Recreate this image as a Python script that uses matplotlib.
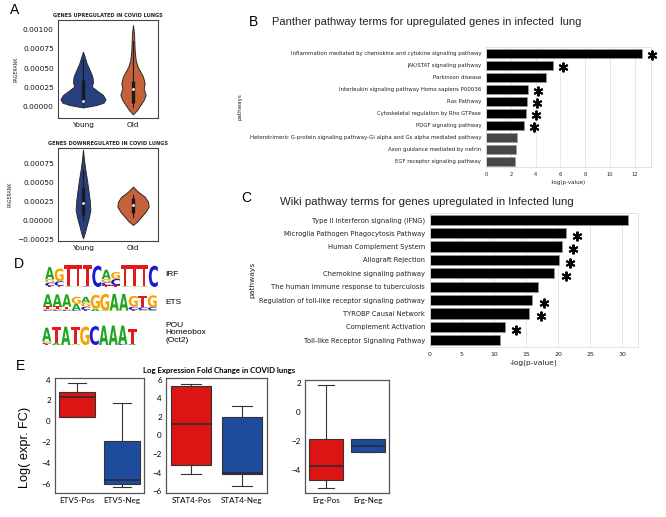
import numpy as np
import matplotlib
matplotlib.use('Agg')
import matplotlib.pyplot as plt
from matplotlib.textpath import TextPath
from matplotlib.patches import PathPatch
from matplotlib.font_manager import FontProperties
from matplotlib.transforms import Affine2D

# ---------------- DATA ----------------
violin_groups = ['Young', 'Old']
# violin outlines (value, half-width)
up_young_y = [0.000714, 0.00065, 0.000563, 0.000476, 0.00039, 0.000325, 0.00026, 0.000208, 0.000152, 0.000095, 0.000052, 0.000022, -0.00001]
up_young_w = [0.0, 0.033, 0.073, 0.133, 0.187, 0.2, 0.177, 0.28, 0.4, 0.45, 0.41, 0.27, 0.0]
up_old_y = [0.00106, 0.00095, 0.000736, 0.000606, 0.00052, 0.000455, 0.00039, 0.000303, 0.000238, 0.000152, 0.000087, 0.000022, -0.000043, -0.0001]
up_old_w = [0.0, 0.02, 0.033, 0.053, 0.093, 0.147, 0.2, 0.233, 0.213, 0.253, 0.213, 0.147, 0.08, 0.0]
up_young_box = [0.000065, 0.000346, 0.000074, 0.00001, 0.0006]   # q1, q3, median, low, high
up_old_box = [0.000043, 0.000333, 0.000225, 0.0, 0.00085]

dn_young_y = [0.00093, 0.000794, 0.000662, 0.00053, 0.0004, 0.000268, 0.000136, 0.000026, -0.000083, -0.00017, -0.000237]
dn_young_w = [0.0, 0.02, 0.047, 0.08, 0.107, 0.133, 0.147, 0.113, 0.067, 0.033, 0.0]
dn_old_y = [0.000443, 0.000377, 0.000311, 0.000246, 0.00018, 0.000114, 0.000048, -0.000018, -0.00006]
dn_old_w = [0.0, 0.1, 0.233, 0.3, 0.313, 0.253, 0.167, 0.08, 0.0]
dn_young_box = [0.00007, 0.000443, 0.000232, 0.00001, 0.00066]
dn_old_box = [0.000092, 0.00029, 0.0002, 0.000048, 0.00033]

panther_terms = ['Inflammation mediated by chemokine and cytokine signaling pathway',
                 'JAK/STAT signaling pathway', 'Parkinson disease',
                 'Interleukin signaling pathway Homo sapiens P00036', 'Ras Pathway',
                 'Cytoskeletal regulation by Rho GTPase', 'PDGF signaling pathway',
                 'Heterotrimeric G-protein signaling pathway-Gi alpha and Gs alpha mediated pathway',
                 'Axon guidance mediated by netrin', 'EGF receptor signaling pathway']
panther_vals = [12.6, 5.4, 4.85, 3.4, 3.3, 3.25, 3.07, 2.5, 2.4, 2.35]
panther_sig = [1, 1, 0, 1, 1, 1, 1, 0, 0, 0]

wiki_terms = ['Type II interferon signaling (IFNG)', 'Microglia Pathogen Phagocytosis Pathway',
              'Human Complement System', 'Allograft Rejection', 'Chemokine signaling pathway',
              'The human immune response to tuberculosis',
              'Regulation of toll-like receptor signaling pathway', 'TYROBP Causal Network',
              'Complement Activation', 'Toll-like Receptor Signaling Pathway']
wiki_vals = [31.0, 21.2, 20.6, 20.1, 19.4, 16.9, 16.0, 15.5, 11.7, 10.9]
wiki_sig = [0, 1, 1, 1, 1, 0, 1, 1, 1, 0]

motif_names = ['IRF', 'ETS', 'POU\nHomeobox\n(Oct2)']
irf_logo = [
    [('T', 0.08), ('C', 0.3), ('G', 0.3), ('A', 1.05)],
    [('T', 0.1), ('C', 0.4), ('G', 1.1)],
    [('A', 0.05), ('T', 1.85)],
    [('G', 0.05), ('T', 1.85)],
    [('C', 0.05), ('T', 1.85)],
    [('C', 1.85)],
    [('T', 0.15), ('C', 0.25), ('G', 0.3), ('A', 0.8)],
    [('T', 0.15), ('C', 0.55), ('G', 0.6)],
    [('A', 0.05), ('T', 1.85)],
    [('G', 0.05), ('T', 1.85)],
    [('A', 0.05), ('T', 1.85)],
    [('C', 1.85)],
]
ets_logo = [
    [('C', 0.1), ('G', 0.15), ('T', 0.25), ('A', 1.25)],
    [('C', 0.1), ('G', 0.15), ('T', 0.25), ('A', 1.25)],
    [('C', 0.1), ('G', 0.1), ('T', 0.25), ('A', 1.3)],
    [('C', 0.1), ('A', 0.65), ('G', 0.75)],
    [('T', 0.1), ('C', 0.35), ('G', 0.45), ('A', 0.6)],
    [('A', 0.25), ('G', 1.45)],
    [('A', 0.05), ('G', 1.75)],
    [('G', 0.05), ('A', 1.75)],
    [('G', 0.05), ('A', 1.75)],
    [('T', 0.1), ('C', 0.35), ('G', 1.15)],
    [('G', 0.1), ('C', 0.3), ('T', 1.2)],
    [('A', 0.1), ('C', 0.3), ('G', 1.25)],
]
pou_logo = [
    [('T', 0.1), ('C', 0.1), ('G', 0.15), ('A', 1.3)],
    [('A', 0.2), ('T', 1.55)],
    [('A', 1.75)],
    [('G', 0.1), ('T', 1.65)],
    [('G', 1.75)],
    [('C', 1.8)],
    [('A', 1.85)],
    [('A', 1.85)],
    [('C', 0.1), ('A', 1.75)],
    [('A', 0.1), ('T', 1.45)],
]

box_labels = [['ETV5-Pos', 'ETV5-Neg'], ['STAT4-Pos', 'STAT4-Neg'], ['Erg-Pos', 'Erg-Neg']]
box_q1 = [[0.42, -6.06], [-3.19, -4.13], [-4.65, -2.76]]
box_med = [[2.29, -5.68], [1.21, -4.02], [-3.73, -2.3]]
box_q3 = [[2.8, -1.94], [5.28, 2.0], [-1.81, -1.86]]
box_lo = [[0.42, -6.35], [-4.16, -5.42], [-5.2, -2.76]]
box_hi = [[3.68, 1.74], [5.57, 3.19], [1.88, -1.86]]
box_ticks = [[-6, -4, -2, 0, 2, 4], [-6, -4, -2, 0, 2, 4, 6], [-4, -2, 0, 2]]
box_ylims = [(-6.9, 4.16), (-6.18, 6.18), (-5.57, 2.23)]

# ---------------- FIGURE ----------------
W, H = 666, 517
fig = plt.figure(figsize=(W / 100, H / 100), dpi=100)
fig.patch.set_facecolor('white')


def add_ax(x0, y0, x1, y1):
    return fig.add_axes([x0 / W, 1 - y1 / H, (x1 - x0) / W, (y1 - y0) / H])


def ftext(x, y, s, **kw):
    return fig.text(x / W, 1 - y / H, s, **kw)


ARIAL = 'Liberation Sans'
BLUE_V = '#283f80'
ORANGE_V = '#c6623b'


def minus_fmt(v, p=None):
    s = f'{v:.5f}'
    if abs(v) < 1e-12:
        s = '0.00000'
    return s.replace('-', '\u2212')


def draw_violin(ax, pos, ys, ws, box, color):
    ys = np.asarray(ys)
    ws = np.asarray(ws)
    ax.fill_betweenx(ys, pos - ws, pos + ws, facecolor=color, edgecolor='#2a2a2a', lw=0.7, zorder=2)
    q1, q3, med, lo, hi = box
    ax.plot([pos, pos], [lo, hi], color='#1a1a1a', lw=0.8, zorder=3)
    ax.plot([pos, pos], [q1, q3], color='#1a1a1a', lw=2.4, solid_capstyle='butt', zorder=3)
    ax.scatter([pos], [med], s=4, color='white', zorder=4, linewidths=0)


def style_violin_ax(ax, ylim, ticks, title):
    ax.set_xlim(-0.5, 1.5)
    ax.set_ylim(*ylim)
    ax.set_yticks(ticks)
    ax.yaxis.set_major_formatter(matplotlib.ticker.FuncFormatter(minus_fmt))
    ax.set_xticks([0, 1])
    ax.set_xticklabels(violin_groups)
    ax.tick_params(length=0, labelsize=5.3, pad=3, colors='#111111')
    for sp in ax.spines.values():
        sp.set_color('#444444')
        sp.set_linewidth(0.8)
    ax.set_title(title, fontsize=3.6, fontweight='bold', pad=2.5, color='#222222')
    ax.set_ylabel('PAGERANK', fontsize=3.4, labelpad=3, color='#222222')


# ---- Panel A ----
ftext(10, 10, 'A', fontsize=10, family=ARIAL, va='center', ha='left')
axA1 = add_ax(58, 20, 158, 118)
draw_violin(axA1, 0, up_young_y, up_young_w, up_young_box, BLUE_V)
draw_violin(axA1, 1, up_old_y, up_old_w, up_old_box, ORANGE_V)
style_violin_ax(axA1, (-0.000147, 0.001126), [0, 0.00025, 0.0005, 0.00075, 0.001],
                'GENES UPREGULATED IN COVID LUNGS')

axA2 = add_ax(58, 148, 158, 241)
draw_violin(axA2, 0, dn_young_y, dn_young_w, dn_young_box, BLUE_V)
draw_violin(axA2, 1, dn_old_y, dn_old_w, dn_old_box, ORANGE_V)
style_violin_ax(axA2, (-0.000272, 0.000951), [-0.00025, 0, 0.00025, 0.0005, 0.00075],
                'GENES DOWNREGULATED IN COVID LUNGS')


# ---- Panels B & C ----
def bar_panel(ax, terms, vals, sig, colors, xticks, xlim, tick_fs, xt_fs, lab_fs, star_pad, star_ms):
    n = len(terms)
    idx = np.arange(n)
    ax.barh(idx, vals, height=0.75, color=colors, edgecolor='#9a9a9a', linewidth=0.5, zorder=2)
    for i in range(n):
        if sig[i]:
            ax.plot(vals[i] + star_pad, i + 0.2, marker=(6, 2, 0), ms=star_ms, mew=1.4,
                    color='black', zorder=3, clip_on=False)
    ax.set_ylim(n - 0.5, -0.5)
    ax.set_xlim(*xlim)
    ax.set_yticks(idx)
    ax.set_yticklabels(terms)
    ax.set_xticks(xticks)
    ax.grid(axis='x', color='#e8e8e8', lw=0.7, zorder=0)
    ax.set_axisbelow(True)
    ax.tick_params(axis='y', length=0, labelsize=tick_fs, pad=3.5, colors='#222222')
    ax.tick_params(axis='x', length=0, labelsize=xt_fs, pad=3.5, colors='#222222')
    for sp in ax.spines.values():
        sp.set_color('#dddddd')
        sp.set_linewidth(0.6)
    ax.set_xlabel('-log(p-value)', fontsize=lab_fs, labelpad=2, color='#222222')
    ax.set_ylabel('pathways', fontsize=lab_fs, color='#222222')


ftext(249, 22, 'B', fontsize=10, family=ARIAL, va='center', ha='left')
ftext(272, 22, 'Panther pathway terms for upregulated genes in infected  lung', fontsize=8.0,
      family=ARIAL, va='center', ha='left', color='#222222')
axB = add_ax(486, 47, 651, 167)
bar_panel(axB, panther_terms, panther_vals, panther_sig, ['black'] * 7 + ['#474747'] * 3,
          [0, 2, 4, 6, 8, 10, 12], (0, 13.3), 3.9, 3.7, 4.0, 0.8, 7)
axB.yaxis.labelpad = 5

ftext(241, 198, 'C', fontsize=10, family=ARIAL, va='center', ha='left')
ftext(280, 202, 'Wiki pathway terms for genes upregulated in Infected lung', fontsize=8.2,
      family=ARIAL, va='center', ha='left', color='#222222')
axC = add_ax(430, 213, 638, 347)
bar_panel(axC, wiki_terms, wiki_vals, wiki_sig, 'black', [0, 5, 10, 15, 20, 25, 30], (0, 32.5),
          4.9, 4.5, 5.4, 1.8, 7)
axC.yaxis.labelpad = 3

# ---- Panel D: motif logos ----
LOGO_COLORS = {'A': '#1fa51f', 'C': '#1a1ad0', 'G': '#f5a300', 'T': '#e31a1a'}
LOGO_FONT = FontProperties(family='DejaVu Sans', weight='bold')


def draw_logo(ax, logo):
    ax.set_xlim(0, len(logo))
    ax.set_ylim(0, 2)
    ax.axis('off')
    for i, col in enumerate(logo):
        y = 0.0
        for letter, h in col:
            tp = TextPath((0, 0), letter, size=1, prop=LOGO_FONT)
            bb = tp.get_extents()
            tr = Affine2D().translate(-bb.x0, -bb.y0).scale(0.96 / bb.width, h / bb.height) \
                .translate(i + 0.02, y)
            ax.add_patch(PathPatch(tr.transform_path(tp), facecolor=LOGO_COLORS[letter],
                                   edgecolor='none', lw=0))
            y += h


ftext(14, 264, 'D', fontsize=10, family=ARIAL, va='center', ha='left')
axD1 = add_ax(45, 264, 158, 287)
draw_logo(axD1, irf_logo)
axD2 = add_ax(43, 292, 157, 311)
draw_logo(axD2, ets_logo)
axD3 = add_ax(42, 324, 137, 345)
draw_logo(axD3, pou_logo)
ftext(165, 275, motif_names[0], fontsize=6, family=ARIAL, va='center', ha='left')
ftext(165, 303, motif_names[1], fontsize=6, family=ARIAL, va='center', ha='left')
ftext(165, 322, motif_names[2], fontsize=6, family=ARIAL, va='top', ha='left', linespacing=1.05)

# ---- Panel E: boxplots ----
ftext(16, 366, 'E', fontsize=10, family=ARIAL, va='center', ha='left')
ftext(219, 370, 'Log Expression Fold Change in COVID lungs', fontsize=5.6, family='Lato',
      fontweight='bold', va='center', ha='center')
ftext(25, 447, 'Log( expr. FC)', fontsize=9.2, family=ARIAL, rotation=90, va='center', ha='center')

box_rects = [(55, 378, 144, 493), (166, 378, 267, 493), (305, 380, 389, 493)]
BOX_COLORS = ['#dc1414', '#1f4b9c']
for k in range(3):
    ax = add_ax(*box_rects[k])
    stats = []
    for j in range(2):
        stats.append(dict(med=box_med[k][j], q1=box_q1[k][j], q3=box_q3[k][j],
                          whislo=box_lo[k][j], whishi=box_hi[k][j], fliers=[]))
    bp = ax.bxp(stats, positions=[1, 2], widths=0.8, patch_artist=True, showfliers=False,
                boxprops=dict(edgecolor='#333333', linewidth=0.8),
                medianprops=dict(color='#2a2a2a', linewidth=1.1),
                whiskerprops=dict(color='#333333', linewidth=0.8),
                capprops=dict(color='#333333', linewidth=0.8))
    for patch, c in zip(bp['boxes'], BOX_COLORS):
        patch.set_facecolor(c)
    ax.set_xlim(0.5, 2.5)
    ax.set_ylim(*box_ylims[k])
    ax.set_yticks(box_ticks[k])
    ax.set_yticklabels([str(t).replace('-', '\u2212') for t in box_ticks[k]])
    ax.set_xticks([1, 2])
    ax.set_xticklabels(box_labels[k])
    ax.tick_params(length=0, labelsize=5.8, pad=3)
    for lab in ax.get_xticklabels() + ax.get_yticklabels():
        lab.set_family('Lato')
    for sp in ax.spines.values():
        sp.set_color('#555555')
        sp.set_linewidth(0.9)

fig.savefig('out.png', dpi=100, facecolor='white')
